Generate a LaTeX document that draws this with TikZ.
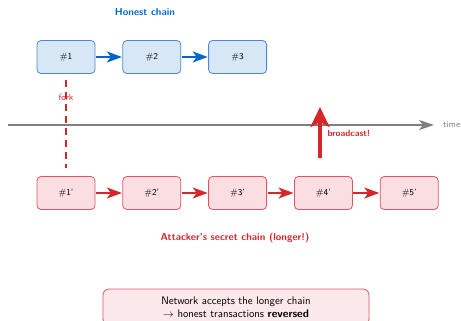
\documentclass[tikz,border=0pt]{standalone}
\usepackage{amsmath}
\usepackage{amssymb}
\usetikzlibrary{arrows.meta,positioning}
\definecolor{honestblue}{RGB}{0,102,204}
\definecolor{honestfill}{RGB}{216,231,246}
\definecolor{honestline}{RGB}{74,138,210}
\definecolor{secretred}{RGB}{214,38,44}
\definecolor{secretfill}{RGB}{250,222,225}
\definecolor{secretline}{RGB}{222,86,96}
\definecolor{timegray}{RGB}{128,128,128}

\begin{document}
\begin{tikzpicture}[x=1pt,y=-1pt,font=\sffamily]
  \tikzset{
    >={Stealth[length=15pt,width=11pt,inset=4pt]},
    block/.style={draw, rounded corners=4pt, line width=0.8pt,
          minimum width=58pt, minimum height=33pt, font=\sffamily\small},
    honest/.style={block, draw=honestline, fill=honestfill},
    secret/.style={block, draw=secretline, fill=secretfill},
    link/.style={->, line width=2pt, shorten <=0.5pt, shorten >=0.5pt},
    caption/.style={font=\sffamily\bfseries}
  }
  \useasboundingbox (0,0) rectangle (461,321);

  % honest chain on top
  \node[caption, text=honestblue] (htitle) at (145,12) {Honest chain};
  \node[honest] (h1) at (66,57) {\#1};
  \node[honest, right=27pt of h1] (h2) {\#2};
  \node[honest, right=27pt of h2] (h3) {\#3};
  \draw[link, honestblue] (h1) -- (h2);
  \draw[link, honestblue] (h2) -- (h3);

  % attacker's private chain
  \node[secret] (a1) at (66,193) {\#1'};
  \node[secret, right=27pt of a1] (a2) {\#2'};
  \node[secret, right=27pt of a2] (a3) {\#3'};
  \node[secret, right=27pt of a3] (a4) {\#4'};
  \node[secret, right=27pt of a4] (a5) {\#5'};
  \foreach \i/\j in {a1/a2,a2/a3,a3/a4,a4/a5}
    \draw[link, secretred] (\i) -- (\j);
  \node[caption, text=secretred] (atitle) at (235,238)
    {Attacker's secret chain (longer!)};

  % fork point
  \coordinate (forktop) at (66,80);
  \draw[secretred, line width=1.2pt, dash pattern=on 7pt off 5pt,
        shorten >=8pt] (forktop) -- (a1.north);
  \node[font=\sffamily\small, text=secretred] (forklbl) at (66,97) {fork};

  % time axis
  \coordinate (tstart) at (8,125);
  \coordinate (tend) at (434,125);
  \draw[-{Stealth[length=15pt,width=10pt,inset=4pt]}, timegray, line width=1.6pt]
    (tstart) -- (tend) node[right=5pt, font=\sffamily\small] (tlbl) {time};

  % release of the private chain
  \coordinate (bfrom) at (320,158);
  \coordinate (bto) at (320,107);
  \draw[-{Stealth[length=20pt,width=19pt,inset=5pt]}, secretred, line width=3.5pt]
    (bfrom) -- (bto);
  \node[font=\sffamily\small\bfseries, text=secretred, anchor=west]
    (blbl) at (324,133) {broadcast!};

  % outcome
  \node[draw=secretline, fill=secretfill!70, line width=0.8pt,
        rounded corners=6pt, minimum width=266pt, minimum height=36pt,
        align=center, font=\sffamily\fontsize{11}{13}\selectfont] (result) at (236,307)
    {Network accepts the longer chain\\
     $\rightarrow$ honest transactions \textbf{reversed}};
\end{tikzpicture}
\end{document}
